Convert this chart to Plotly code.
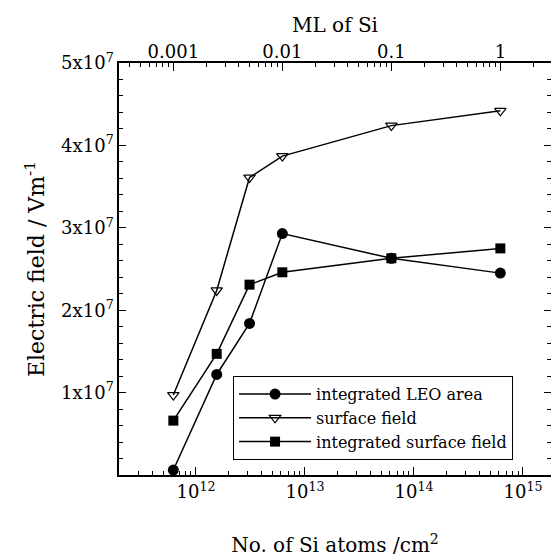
import plotly.graph_objects as go
import numpy as np

# ---- data ----
ml_of_si = [0.001, 0.0025, 0.005, 0.01, 0.1, 1]
atoms_per_ml = 6.2e14
n_si_atoms = [m * atoms_per_ml for m in ml_of_si]

integrated_leo_area = [0.06e7, 1.22e7, 1.84e7, 2.93e7, 2.63e7, 2.45e7]
surface_field = [0.97e7, 2.24e7, 3.61e7, 3.87e7, 4.24e7, 4.42e7]
integrated_surface_field = [0.66e7, 1.47e7, 2.31e7, 2.46e7, 2.63e7, 2.75e7]

y_tick_vals = [1e7, 2e7, 3e7, 4e7, 5e7]
y_tick_text = ["1x10<sup>7</sup>", "2x10<sup>7</sup>", "3x10<sup>7</sup>", "4x10<sup>7</sup>", "5x10<sup>7</sup>"]
x_tick_vals = [1e12, 1e13, 1e14, 1e15]
x_tick_text = ["10<sup>12</sup>", "10<sup>13</sup>", "10<sup>14</sup>", "10<sup>15</sup>"]
top_tick_vals = [0.001, 0.01, 0.1, 1]
top_tick_text = ["0.001", "0.01", "0.1", "1"]

FONT = "DejaVu Serif"
x_log_range = [11.294, 15.257]
top_log_range = [v - np.log10(atoms_per_ml) for v in x_log_range]
y_range = [0, 5e7]

x_minor = [k * 10.0 ** n for n in range(11, 16) for k in range(2, 10)]
top_minor = [k * 10.0 ** n for n in range(-4, 1) for k in range(2, 10)]

fig = go.Figure()
line_style = dict(color="black", width=1.5)
fig.add_trace(go.Scatter(x=n_si_atoms, y=integrated_leo_area, name="integrated LEO area",
                         mode="lines+markers", line=line_style,
                         marker=dict(symbol="circle", size=11, color="black")))
fig.add_trace(go.Scatter(x=n_si_atoms, y=surface_field, name="surface field",
                         mode="lines+markers", line=line_style,
                         marker=dict(symbol="triangle-down-open", size=10, color="black",
                                     line=dict(width=1.2))))
fig.add_trace(go.Scatter(x=n_si_atoms, y=integrated_surface_field, name="integrated surface field",
                         mode="lines+markers", line=line_style,
                         marker=dict(symbol="square", size=10, color="black")))
for xa, ya, xs in [("x2", "y", ml_of_si), ("x3", "y", n_si_atoms), ("x4", "y", ml_of_si), ("x", "y2", n_si_atoms)]:
    fig.add_trace(go.Scatter(x=xs, y=surface_field, xaxis=xa, yaxis=ya, mode="markers",
                             marker=dict(opacity=0), showlegend=False, hoverinfo="skip"))

tick_common = dict(tickcolor="black", showgrid=False, zeroline=False)

fig.update_layout(
    width=551, height=558,
    margin=dict(l=119, r=0, t=63, b=83),
    paper_bgcolor="white", plot_bgcolor="white",
    font=dict(family=FONT, color="black", size=18),
    showlegend=True,
    legend=dict(x=0.264, y=0.24, xanchor="left", yanchor="top",
                bordercolor="black", borderwidth=1, bgcolor="white",
                font=dict(family=FONT, size=16), tracegroupgap=0,
                itemwidth=72),
    xaxis=dict(type="log", range=x_log_range, tickvals=x_tick_vals, ticktext=x_tick_text,
               ticks="inside", ticklen=8, showline=True, linecolor="black", linewidth=1.5,
               title=dict(text="No. of Si atoms /cm<sup>2</sup>", font=dict(size=20, family=FONT), standoff=37),
               tickfont=dict(size=18, family=FONT), **tick_common),
    xaxis3=dict(type="log", range=x_log_range, overlaying="x", side="bottom",
                tickvals=x_minor, showticklabels=False, ticks="inside", ticklen=4,
                showline=False, **tick_common),
    xaxis2=dict(type="log", range=top_log_range, overlaying="x", side="top",
                tickvals=top_tick_vals, ticktext=top_tick_text,
                ticks="inside", ticklen=8, showline=True, linecolor="black", linewidth=1.5,
                ticklabelstandoff=-4,
                title=dict(text="ML of Si", font=dict(size=20, family=FONT), standoff=3),
                tickfont=dict(size=18, family=FONT), **tick_common),
    xaxis4=dict(type="log", range=top_log_range, overlaying="x", side="top",
                tickvals=top_minor, showticklabels=False, ticks="inside", ticklen=4,
                showline=False, **tick_common),
    yaxis=dict(range=y_range, tickvals=y_tick_vals, ticktext=y_tick_text,
               ticks="inside", ticklen=7, showline=True, linecolor="black", linewidth=1.5,
               mirror=False,
               minor=dict(ticks="inside", ticklen=4, tickcolor="black", dtick=2e6, showgrid=False),
               title=dict(text="Electric field / Vm<sup>-1</sup>", font=dict(size=22, family=FONT), standoff=10),
               tickfont=dict(size=18, family=FONT), **tick_common),
    yaxis2=dict(range=y_range, overlaying="y", side="right", tickvals=y_tick_vals,
                showticklabels=False, ticks="inside", ticklen=7, showline=False,
                minor=dict(ticks="inside", ticklen=4, tickcolor="black", dtick=2e6, showgrid=False),
                **tick_common),
)

fig.write_html("out.html")
